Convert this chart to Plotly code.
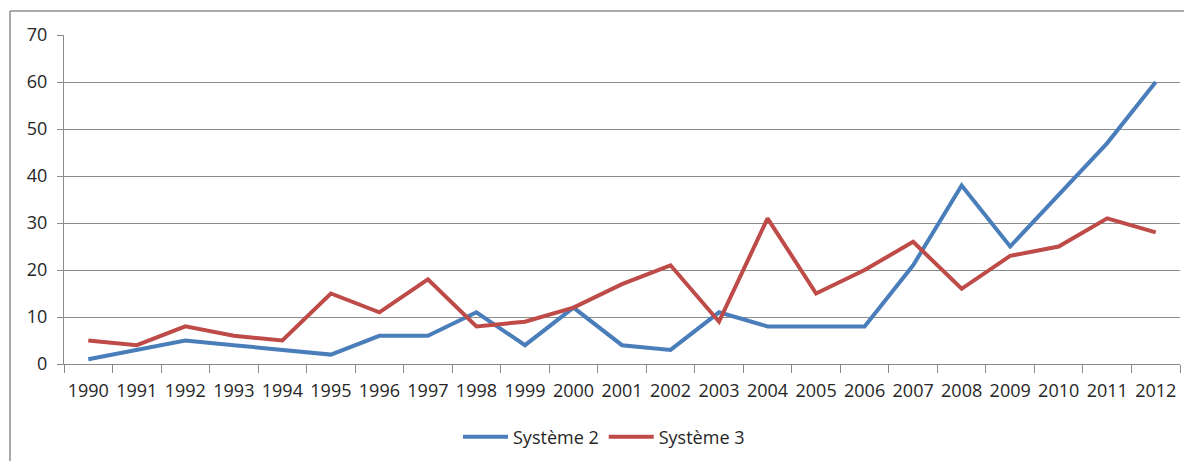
import plotly.graph_objects as go

years = [str(y) for y in range(1990, 2013)]
systeme2 = [1, 3, 5, 4, 3, 2, 6, 6, 11, 4, 12, 4, 3, 11, 8, 8, 8, 21, 38, 25, 36, 47, 60]
systeme3 = [5, 4, 8, 6, 5, 15, 11, 18, 8, 9, 12, 17, 21, 9, 31, 15, 20, 26, 16, 23, 25, 31, 28]
y_ticks = [0, 10, 20, 30, 40, 50, 60, 70]

# the page body adds an 8px offset, so the figure is sized to fill the rest
OFF = 8
W, H = 1192 - OFF, 461 - OFF
L, R, T, B = 64 - OFF, 12, 35 - OFF, 97
pw, ph = W - L - R, H - T - B

fig = go.Figure()
fig.add_trace(go.Scatter(x=years, y=systeme2, mode="lines", name="Système 2",
                         line=dict(color="#4A7EBB", width=4)))
fig.add_trace(go.Scatter(x=years, y=systeme3, mode="lines", name="Système 3",
                         line=dict(color="#BE4B48", width=4)))

grey = "#8C8C8C"
font = dict(family="Open Sans", size=18, color="#262626")

# outer chart frame (top and left edges visible)
bx = (10 - OFF - L) / pw
by = (H - B - (11 - OFF)) / ph
fig.add_shape(type="line", xref="paper", yref="paper", x0=bx, x1=(W - L) / pw,
              y0=by, y1=by, line=dict(color=grey, width=1.5))
fig.add_shape(type="line", xref="paper", yref="paper", x0=bx, x1=bx,
              y0=by, y1=-(B + 5) / ph, line=dict(color=grey, width=1.5))

fig.update_layout(
    width=W, height=H,
    margin=dict(l=L, r=R, t=T, b=B, autoexpand=False),
    paper_bgcolor="white", plot_bgcolor="white",
    font=font,
    showlegend=True,
    legend=dict(orientation="h", x=(604 - 64) / pw, xanchor="center",
                y=-(437 - 364) / ph, yanchor="middle",
                font=font, itemwidth=45, tracegroupgap=0),
    xaxis=dict(type="category", tickson="boundaries", ticks="outside", ticklen=8,
               tickcolor=grey, showline=True, linecolor=grey, linewidth=1.2,
               showgrid=False, tickfont=font, tickangle=0, ticklabelstandoff=10,
               range=[-0.5, len(years) - 0.5], automargin=False),
    yaxis=dict(range=[0, 70], tickvals=y_ticks, ticks="outside", ticklen=6,
               tickcolor=grey, showline=True, linecolor=grey, linewidth=1.2,
               showgrid=True, gridcolor=grey, gridwidth=1, zeroline=False,
               tickfont=font, ticklabelstandoff=6, automargin=False),
)

fig.write_html("out.html")
